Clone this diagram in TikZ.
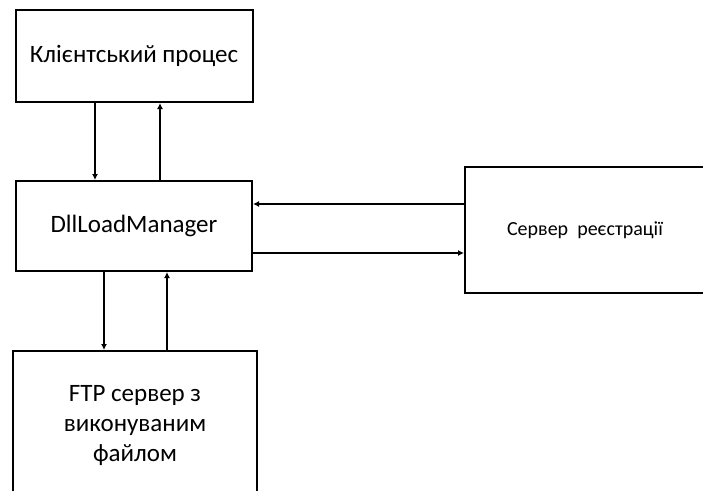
\documentclass[tikz,border=0pt]{standalone}
\usepackage{fontspec}
\setmainfont{Carlito}
\usetikzlibrary{arrows.meta}
\tikzset{
  blockbox/.style={draw=black, line width=2pt, fill=white, inner sep=0pt, align=center},
  link/.style={line width=2pt, -{Latex[length=6pt,width=6pt]}},
}
\begin{document}
\begin{tikzpicture}[x=1pt,y=-1pt]
  \clip (0,0) rectangle (703,490);
  \fill[white] (0,0) rectangle (703,490);

  % blocks
  \node[blockbox, minimum width=237pt, minimum height=92pt, font=\fontsize{25}{30}\selectfont]
    (client) at (134,56) {Клієнтський процес};
  \node[blockbox, minimum width=236pt, minimum height=90pt, font=\fontsize{25}{30}\selectfont]
    (mgr) at (134,226) {DllLoadManager};
  \node[blockbox, minimum width=240pt, minimum height=126pt, font=\fontsize{20}{24}\selectfont]
    (reg) at (585,230) {Сервер\ \ реєстрації};
  \node[blockbox, minimum width=244pt, minimum height=150pt, font=\fontsize{25}{30}\selectfont]
    (ftp) at (135,426) {FTP сервер з\\виконуваним\\файлом};

  % vertical positions of the connectors
  \coordinate (xa) at (95,0);
  \coordinate (xb) at (160,0);
  \coordinate (xc) at (104,0);
  \coordinate (xd) at (167,0);
  \coordinate (ya) at (0,204);
  \coordinate (yb) at (0,253);

  % connectors
  \draw[link] (client.south -| xa) -- (mgr.north -| xa);
  \draw[link] (mgr.north -| xb) -- (client.south -| xb);
  \draw[link] (mgr.south -| xc) -- (ftp.north -| xc);
  \draw[link] (ftp.north -| xd) -- (mgr.south -| xd);
  \draw[link] (reg.west |- ya) -- (mgr.east |- ya);
  \draw[link] (mgr.east |- yb) -- (reg.west |- yb);
\end{tikzpicture}
\end{document}
